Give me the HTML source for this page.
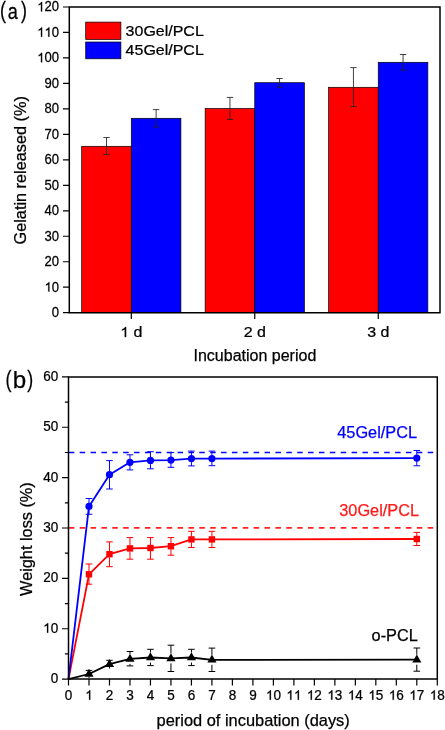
<!DOCTYPE html>
<html><head><meta charset="utf-8"><style>
html,body{margin:0;padding:0;background:#fff;}
body{width:445px;height:730px;overflow:hidden;}
svg{display:block;font-family:"Liberation Sans", sans-serif;will-change:transform;}
text{stroke:currentColor;stroke-width:0.25px;}
</style></head><body>
<svg width="445" height="730" viewBox="0 0 445 730">
<rect width="445" height="730" fill="#fff"/>
<rect x="81.7" y="146.3" width="49.6" height="166.4" fill="#ff0000" stroke="#000" stroke-width="0.7"/>
<rect x="131.3" y="118.3" width="49.6" height="194.4" fill="#0000ff" stroke="#000" stroke-width="0.7"/>
<rect x="205.15" y="108.5" width="49.6" height="204.2" fill="#ff0000" stroke="#000" stroke-width="0.7"/>
<rect x="254.75" y="82.7" width="49.6" height="230" fill="#0000ff" stroke="#000" stroke-width="0.7"/>
<rect x="328.65" y="87.3" width="49.6" height="225.4" fill="#ff0000" stroke="#000" stroke-width="0.7"/>
<rect x="378.25" y="62.3" width="49.6" height="250.4" fill="#0000ff" stroke="#000" stroke-width="0.7"/>
<path d="M106.5 137.5V154.6M103.3 137.5H109.7M103.3 154.6H109.7" stroke="#222" stroke-width="0.85" fill="none"/>
<path d="M156.1 109.6V127M152.9 109.6H159.3M152.9 127H159.3" stroke="#222" stroke-width="0.85" fill="none"/>
<path d="M229.95 97.4V119.4M226.75 97.4H233.15M226.75 119.4H233.15" stroke="#222" stroke-width="0.85" fill="none"/>
<path d="M279.55 78.5V87.2M276.35 78.5H282.75M276.35 87.2H282.75" stroke="#222" stroke-width="0.85" fill="none"/>
<path d="M353.45 67.6V106.6M350.25 67.6H356.65M350.25 106.6H356.65" stroke="#222" stroke-width="0.85" fill="none"/>
<path d="M403.05 54.5V70M399.85 54.5H406.25M399.85 70H406.25" stroke="#222" stroke-width="0.85" fill="none"/>
<path d="M69.3 7H440V312.7H69.3Z" fill="none" stroke="#000" stroke-width="1.5"/>
<path d="M63 312.7H69.3M63 287.22H69.3M63 261.75H69.3M63 236.27H69.3M63 210.8H69.3M63 185.32H69.3M63 159.85H69.3M63 134.38H69.3M63 108.9H69.3M63 83.42H69.3M63 57.95H69.3M63 32.47H69.3M63 7H69.3M131.3 312.7V319M254.75 312.7V319M378.25 312.7V319" stroke="#000" stroke-width="1.2" fill="none"/>
<g transform="translate(59.1 317.1) scale(0.95 1)"><text text-anchor="end" font-size="13.8">0</text></g>
<g transform="translate(59.1 291.62) scale(0.95 1)"><text text-anchor="end" font-size="13.8"> 0</text><path d="M-10.21 0H-11.42V-7.43Q-11.86 -7.03 -12.57 -6.63Q-13.28 -6.22 -13.85 -6.02V-7.15Q-12.83 -7.61 -12.07 -8.26Q-11.31 -8.92 -10.99 -9.49H-10.21Z" fill="#000" stroke="#000" stroke-width="0.25"/></g>
<g transform="translate(59.1 266.15) scale(0.95 1)"><text text-anchor="end" font-size="13.8">20</text></g>
<g transform="translate(59.1 240.67) scale(0.95 1)"><text text-anchor="end" font-size="13.8">30</text></g>
<g transform="translate(59.1 215.2) scale(0.95 1)"><text text-anchor="end" font-size="13.8">40</text></g>
<g transform="translate(59.1 189.72) scale(0.95 1)"><text text-anchor="end" font-size="13.8">50</text></g>
<g transform="translate(59.1 164.25) scale(0.95 1)"><text text-anchor="end" font-size="13.8">60</text></g>
<g transform="translate(59.1 138.78) scale(0.95 1)"><text text-anchor="end" font-size="13.8">70</text></g>
<g transform="translate(59.1 113.3) scale(0.95 1)"><text text-anchor="end" font-size="13.8">80</text></g>
<g transform="translate(59.1 87.82) scale(0.95 1)"><text text-anchor="end" font-size="13.8">90</text></g>
<g transform="translate(59.1 62.35) scale(0.95 1)"><text text-anchor="end" font-size="13.8"> 00</text><path d="M-17.88 0H-19.1V-7.43Q-19.53 -7.03 -20.25 -6.63Q-20.96 -6.22 -21.52 -6.02V-7.15Q-20.5 -7.61 -19.74 -8.26Q-18.98 -8.92 -18.67 -9.49H-17.88Z" fill="#000" stroke="#000" stroke-width="0.25"/></g>
<g transform="translate(59.1 36.87) scale(0.95 1)"><text text-anchor="end" font-size="13.8">  0</text><path d="M-17.88 0H-19.1V-7.43Q-19.53 -7.03 -20.25 -6.63Q-20.96 -6.22 -21.52 -6.02V-7.15Q-20.5 -7.61 -19.74 -8.26Q-18.98 -8.92 -18.67 -9.49H-17.88ZM-10.21 0H-11.42V-7.43Q-11.86 -7.03 -12.57 -6.63Q-13.28 -6.22 -13.85 -6.02V-7.15Q-12.83 -7.61 -12.07 -8.26Q-11.31 -8.92 -10.99 -9.49H-10.21Z" fill="#000" stroke="#000" stroke-width="0.25"/></g>
<g transform="translate(59.1 11.4) scale(0.95 1)"><text text-anchor="end" font-size="13.8"> 20</text><path d="M-17.88 0H-19.1V-7.43Q-19.53 -7.03 -20.25 -6.63Q-20.96 -6.22 -21.52 -6.02V-7.15Q-20.5 -7.61 -19.74 -8.26Q-18.98 -8.92 -18.67 -9.49H-17.88Z" fill="#000" stroke="#000" stroke-width="0.25"/></g>
<g transform="translate(131.3 337.1) scale(1 0.92)"><text text-anchor="middle" font-size="16">  d</text><path d="M-5.16 0H-6.57V-8.61Q-7.07 -8.15 -7.9 -7.68Q-8.72 -7.22 -9.38 -6.98V-8.29Q-8.2 -8.82 -7.32 -9.58Q-6.43 -10.34 -6.07 -11.01H-5.16Z" fill="#000" stroke="#000" stroke-width="0.25"/></g>
<g transform="translate(254.75 337.1) scale(1 0.92)"><text text-anchor="middle" font-size="16">2 d</text></g>
<g transform="translate(378.25 337.1) scale(1 0.92)"><text text-anchor="middle" font-size="16">3 d</text></g>
<text x="254.9" y="360.9" text-anchor="middle" font-size="16">Incubation period</text>
<text transform="translate(25.5 170.3) rotate(-90)" text-anchor="middle" font-size="16.3">Gelatin released (%)</text>
<rect x="85.7" y="22.1" width="35.2" height="17.4" fill="#ff0000" stroke="#000" stroke-width="0.7"/>
<rect x="85.7" y="42" width="35.2" height="16.8" fill="#0000ff" stroke="#000" stroke-width="0.7"/>
<text transform="translate(125.6 35.6) scale(1 0.94)" font-size="16">30Gel/PCL</text>
<text transform="translate(125.6 55.3) scale(1 0.94)" font-size="16">45Gel/PCL</text>
<text transform="translate(0 18.1) scale(0.76 1)" font-size="23.5">(</text>
<text transform="translate(7.8 18.6) scale(0.82 1)" font-size="22.2">a</text>
<text transform="translate(21.06 18.1) scale(0.76 1)" font-size="23.5">)</text>
<path d="M68.8 452.5H437.3" stroke="#0000ff" stroke-width="1.6" stroke-dasharray="5.5 5.376" fill="none"/>
<path d="M68.8 527.9H437.3" stroke="#ff2020" stroke-width="1.6" stroke-dasharray="5.5 5.376" fill="none"/>
<polyline points="68.5,679.1 88.99,674 109.48,664.1 129.97,658.9 150.46,657.5 170.94,658.4 191.43,657.5 211.92,659.8 416.81,659.7" fill="none" stroke="#000000" stroke-width="1.8" stroke-linejoin="round"/>
<path d="M85.69 670.4H92.29M88.99 676.5V678.1" stroke="#000000" stroke-width="1" fill="none"/>
<path d="M88.99 668.8L93.59 676.8L84.39 676.8Z" fill="#000000"/>
<path d="M106.18 660.3H112.78M109.48 666.6V668.5" stroke="#000000" stroke-width="1" fill="none"/>
<path d="M109.48 658.9L114.08 666.9L104.88 666.9Z" fill="#000000"/>
<path d="M129.97 651.5V653.9M129.97 663.9V665.9M126.67 651.5H133.27M126.67 665.9H133.27" stroke="#000000" stroke-width="1" fill="none"/>
<path d="M129.97 653.7L134.57 661.7L125.37 661.7Z" fill="#000000"/>
<path d="M150.46 649.3V652.5M150.46 662.5V665.6M147.16 649.3H153.76M147.16 665.6H153.76" stroke="#000000" stroke-width="1" fill="none"/>
<path d="M150.46 652.3L155.06 660.3L145.86 660.3Z" fill="#000000"/>
<path d="M170.94 645.2V653.4M170.94 663.4V671.5M167.64 645.2H174.24M167.64 671.5H174.24" stroke="#000000" stroke-width="1" fill="none"/>
<path d="M170.94 653.2L175.54 661.2L166.34 661.2Z" fill="#000000"/>
<path d="M191.43 649.3V652.5M191.43 662.5V665.6M188.13 649.3H194.73M188.13 665.6H194.73" stroke="#000000" stroke-width="1" fill="none"/>
<path d="M191.43 652.3L196.03 660.3L186.83 660.3Z" fill="#000000"/>
<path d="M211.92 648.1V654.8M211.92 664.8V671.5M208.62 648.1H215.22M208.62 671.5H215.22" stroke="#000000" stroke-width="1" fill="none"/>
<path d="M211.92 654.6L216.52 662.6L207.32 662.6Z" fill="#000000"/>
<path d="M416.81 648V654.7M416.81 664.7V671.2M413.51 648H420.11M413.51 671.2H420.11" stroke="#000000" stroke-width="1" fill="none"/>
<path d="M416.81 654.5L421.41 662.5L412.21 662.5Z" fill="#000000"/>
<polyline points="68.5,679.1 88.99,574.3 109.48,554.2 129.97,548.4 150.46,548 170.94,546.2 191.43,539.4 211.92,539.4 416.81,539" fill="none" stroke="#ff0000" stroke-width="1.8" stroke-linejoin="round"/>
<path d="M88.99 564V571.3M88.99 577.3V584.2M85.69 564H92.29M85.69 584.2H92.29" stroke="#ff0000" stroke-width="1" fill="none"/>
<rect x="85.79" y="571.1" width="6.4" height="6.4" fill="#ff0000"/>
<path d="M109.48 541.9V551.2M109.48 557.2V566.7M106.18 541.9H112.78M106.18 566.7H112.78" stroke="#ff0000" stroke-width="1" fill="none"/>
<rect x="106.28" y="551" width="6.4" height="6.4" fill="#ff0000"/>
<path d="M129.97 537.6V545.4M129.97 551.4V559.2M126.67 537.6H133.27M126.67 559.2H133.27" stroke="#ff0000" stroke-width="1" fill="none"/>
<rect x="126.77" y="545.2" width="6.4" height="6.4" fill="#ff0000"/>
<path d="M150.46 537.6V545M150.46 551V559.2M147.16 537.6H153.76M147.16 559.2H153.76" stroke="#ff0000" stroke-width="1" fill="none"/>
<rect x="147.26" y="544.8" width="6.4" height="6.4" fill="#ff0000"/>
<path d="M170.94 537.6V543.2M170.94 549.2V555.2M167.64 537.6H174.24M167.64 555.2H174.24" stroke="#ff0000" stroke-width="1" fill="none"/>
<rect x="167.74" y="543" width="6.4" height="6.4" fill="#ff0000"/>
<path d="M191.43 531.3V536.4M191.43 542.4V547.5M188.13 531.3H194.73M188.13 547.5H194.73" stroke="#ff0000" stroke-width="1" fill="none"/>
<rect x="188.23" y="536.2" width="6.4" height="6.4" fill="#ff0000"/>
<path d="M211.92 531.3V536.4M211.92 542.4V547.5M208.62 531.3H215.22M208.62 547.5H215.22" stroke="#ff0000" stroke-width="1" fill="none"/>
<rect x="208.72" y="536.2" width="6.4" height="6.4" fill="#ff0000"/>
<path d="M416.81 532.4V536M416.81 542V545.5M413.51 532.4H420.11M413.51 545.5H420.11" stroke="#ff0000" stroke-width="1" fill="none"/>
<rect x="413.61" y="535.8" width="6.4" height="6.4" fill="#ff0000"/>
<polyline points="68.5,679.1 88.99,506.4 109.48,474.7 129.97,462.3 150.46,460.4 170.94,460.1 191.43,458.6 211.92,458.6 416.81,458.1" fill="none" stroke="#0000ff" stroke-width="1.8" stroke-linejoin="round"/>
<path d="M88.99 498.5V503.4M88.99 509.4V514.3M85.69 498.5H92.29M85.69 514.3H92.29" stroke="#0000ff" stroke-width="1" fill="none"/>
<circle cx="88.99" cy="506.4" r="3.6" fill="#0000ff"/>
<path d="M109.48 460.6V471.7M109.48 477.7V489M106.18 460.6H112.78M106.18 489H112.78" stroke="#0000ff" stroke-width="1" fill="none"/>
<circle cx="109.48" cy="474.7" r="3.6" fill="#0000ff"/>
<path d="M129.97 454.8V459.3M129.97 465.3V469.9M126.67 454.8H133.27M126.67 469.9H133.27" stroke="#0000ff" stroke-width="1" fill="none"/>
<circle cx="129.97" cy="462.3" r="3.6" fill="#0000ff"/>
<path d="M150.46 451.7V457.4M150.46 463.4V468.8M147.16 451.7H153.76M147.16 468.8H153.76" stroke="#0000ff" stroke-width="1" fill="none"/>
<circle cx="150.46" cy="460.4" r="3.6" fill="#0000ff"/>
<path d="M170.94 452.6V457.1M170.94 463.1V467.3M167.64 452.6H174.24M167.64 467.3H174.24" stroke="#0000ff" stroke-width="1" fill="none"/>
<circle cx="170.94" cy="460.1" r="3.6" fill="#0000ff"/>
<path d="M191.43 451.1V455.6M191.43 461.6V465.9M188.13 451.1H194.73M188.13 465.9H194.73" stroke="#0000ff" stroke-width="1" fill="none"/>
<circle cx="191.43" cy="458.6" r="3.6" fill="#0000ff"/>
<path d="M211.92 451.1V455.6M211.92 461.6V465.7M208.62 451.1H215.22M208.62 465.7H215.22" stroke="#0000ff" stroke-width="1" fill="none"/>
<circle cx="211.92" cy="458.6" r="3.6" fill="#0000ff"/>
<path d="M416.81 450.5V455.1M416.81 461.1V465.8M413.51 450.5H420.11M413.51 465.8H420.11" stroke="#0000ff" stroke-width="1" fill="none"/>
<circle cx="416.81" cy="458.1" r="3.6" fill="#0000ff"/>
<path d="M68.5 376.9H437.3V679.1H68.5Z" fill="none" stroke="#000" stroke-width="1.5"/>
<path d="M62 679.1H68.5M62 628.73H68.5M62 578.37H68.5M62 528H68.5M62 477.63H68.5M62 427.27H68.5M62 376.9H68.5M68.5 679.1V685.5M88.99 679.1V685.5M109.48 679.1V685.5M129.97 679.1V685.5M150.46 679.1V685.5M170.94 679.1V685.5M191.43 679.1V685.5M211.92 679.1V685.5M232.41 679.1V685.5M252.9 679.1V685.5M273.39 679.1V685.5M293.88 679.1V685.5M314.37 679.1V685.5M334.86 679.1V685.5M355.34 679.1V685.5M375.83 679.1V685.5M396.32 679.1V685.5M416.81 679.1V685.5M437.3 679.1V685.5" stroke="#000" stroke-width="1.2" fill="none"/>
<path d="M64.9 653.92H68.5M64.9 603.55H68.5M64.9 553.18H68.5M64.9 502.82H68.5M64.9 452.45H68.5M64.9 402.08H68.5" stroke="#000" stroke-width="1.15" fill="none"/>
<g transform="translate(58.2 683) scale(0.98 1)"><text text-anchor="end" font-size="13.8">0</text></g>
<g transform="translate(58.2 632.63) scale(0.98 1)"><text text-anchor="end" font-size="13.8"> 0</text><path d="M-10.21 0H-11.42V-7.43Q-11.86 -7.03 -12.57 -6.63Q-13.28 -6.22 -13.85 -6.02V-7.15Q-12.83 -7.61 -12.07 -8.26Q-11.31 -8.92 -10.99 -9.49H-10.21Z" fill="#000" stroke="#000" stroke-width="0.25"/></g>
<g transform="translate(58.2 582.27) scale(0.98 1)"><text text-anchor="end" font-size="13.8">20</text></g>
<g transform="translate(58.2 531.9) scale(0.98 1)"><text text-anchor="end" font-size="13.8">30</text></g>
<g transform="translate(58.2 481.53) scale(0.98 1)"><text text-anchor="end" font-size="13.8">40</text></g>
<g transform="translate(58.2 431.17) scale(0.98 1)"><text text-anchor="end" font-size="13.8">50</text></g>
<g transform="translate(58.2 380.8) scale(0.98 1)"><text text-anchor="end" font-size="13.8">60</text></g>
<g transform="translate(68.5 699.8) scale(0.98 1)"><text text-anchor="middle" font-size="13.8">0</text></g>
<g transform="translate(88.99 699.8) scale(0.98 1)"><text text-anchor="middle" font-size="13.8"> </text><path d="M1.3 0H0.09V-7.43Q-0.35 -7.03 -1.06 -6.63Q-1.77 -6.22 -2.33 -6.02V-7.15Q-1.32 -7.61 -0.56 -8.26Q0.21 -8.92 0.52 -9.49H1.3Z" fill="#000" stroke="#000" stroke-width="0.25"/></g>
<g transform="translate(109.48 699.8) scale(0.98 1)"><text text-anchor="middle" font-size="13.8">2</text></g>
<g transform="translate(129.97 699.8) scale(0.98 1)"><text text-anchor="middle" font-size="13.8">3</text></g>
<g transform="translate(150.46 699.8) scale(0.98 1)"><text text-anchor="middle" font-size="13.8">4</text></g>
<g transform="translate(170.94 699.8) scale(0.98 1)"><text text-anchor="middle" font-size="13.8">5</text></g>
<g transform="translate(191.43 699.8) scale(0.98 1)"><text text-anchor="middle" font-size="13.8">6</text></g>
<g transform="translate(211.92 699.8) scale(0.98 1)"><text text-anchor="middle" font-size="13.8">7</text></g>
<g transform="translate(232.41 699.8) scale(0.98 1)"><text text-anchor="middle" font-size="13.8">8</text></g>
<g transform="translate(252.9 699.8) scale(0.98 1)"><text text-anchor="middle" font-size="13.8">9</text></g>
<g transform="translate(273.39 699.8) scale(0.98 1)"><text text-anchor="middle" font-size="13.8"> 0</text><path d="M-2.53 0H-3.75V-7.43Q-4.18 -7.03 -4.9 -6.63Q-5.61 -6.22 -6.17 -6.02V-7.15Q-5.15 -7.61 -4.39 -8.26Q-3.63 -8.92 -3.32 -9.49H-2.53Z" fill="#000" stroke="#000" stroke-width="0.25"/></g>
<g transform="translate(293.88 699.8) scale(0.98 1)"><text text-anchor="middle" font-size="13.8">  </text><path d="M-2.53 0H-3.75V-7.43Q-4.18 -7.03 -4.9 -6.63Q-5.61 -6.22 -6.17 -6.02V-7.15Q-5.15 -7.61 -4.39 -8.26Q-3.63 -8.92 -3.32 -9.49H-2.53ZM5.14 0H3.93V-7.43Q3.49 -7.03 2.78 -6.63Q2.07 -6.22 1.5 -6.02V-7.15Q2.52 -7.61 3.28 -8.26Q4.04 -8.92 4.36 -9.49H5.14Z" fill="#000" stroke="#000" stroke-width="0.25"/></g>
<g transform="translate(314.37 699.8) scale(0.98 1)"><text text-anchor="middle" font-size="13.8"> 2</text><path d="M-2.53 0H-3.75V-7.43Q-4.18 -7.03 -4.9 -6.63Q-5.61 -6.22 -6.17 -6.02V-7.15Q-5.15 -7.61 -4.39 -8.26Q-3.63 -8.92 -3.32 -9.49H-2.53Z" fill="#000" stroke="#000" stroke-width="0.25"/></g>
<g transform="translate(334.86 699.8) scale(0.98 1)"><text text-anchor="middle" font-size="13.8"> 3</text><path d="M-2.53 0H-3.75V-7.43Q-4.18 -7.03 -4.9 -6.63Q-5.61 -6.22 -6.17 -6.02V-7.15Q-5.15 -7.61 -4.39 -8.26Q-3.63 -8.92 -3.32 -9.49H-2.53Z" fill="#000" stroke="#000" stroke-width="0.25"/></g>
<g transform="translate(355.34 699.8) scale(0.98 1)"><text text-anchor="middle" font-size="13.8"> 4</text><path d="M-2.53 0H-3.75V-7.43Q-4.18 -7.03 -4.9 -6.63Q-5.61 -6.22 -6.17 -6.02V-7.15Q-5.15 -7.61 -4.39 -8.26Q-3.63 -8.92 -3.32 -9.49H-2.53Z" fill="#000" stroke="#000" stroke-width="0.25"/></g>
<g transform="translate(375.83 699.8) scale(0.98 1)"><text text-anchor="middle" font-size="13.8"> 5</text><path d="M-2.53 0H-3.75V-7.43Q-4.18 -7.03 -4.9 -6.63Q-5.61 -6.22 -6.17 -6.02V-7.15Q-5.15 -7.61 -4.39 -8.26Q-3.63 -8.92 -3.32 -9.49H-2.53Z" fill="#000" stroke="#000" stroke-width="0.25"/></g>
<g transform="translate(396.32 699.8) scale(0.98 1)"><text text-anchor="middle" font-size="13.8"> 6</text><path d="M-2.53 0H-3.75V-7.43Q-4.18 -7.03 -4.9 -6.63Q-5.61 -6.22 -6.17 -6.02V-7.15Q-5.15 -7.61 -4.39 -8.26Q-3.63 -8.92 -3.32 -9.49H-2.53Z" fill="#000" stroke="#000" stroke-width="0.25"/></g>
<g transform="translate(416.81 699.8) scale(0.98 1)"><text text-anchor="middle" font-size="13.8"> 7</text><path d="M-2.53 0H-3.75V-7.43Q-4.18 -7.03 -4.9 -6.63Q-5.61 -6.22 -6.17 -6.02V-7.15Q-5.15 -7.61 -4.39 -8.26Q-3.63 -8.92 -3.32 -9.49H-2.53Z" fill="#000" stroke="#000" stroke-width="0.25"/></g>
<g transform="translate(437.3 699.8) scale(0.98 1)"><text text-anchor="middle" font-size="13.8"> 8</text><path d="M-2.53 0H-3.75V-7.43Q-4.18 -7.03 -4.9 -6.63Q-5.61 -6.22 -6.17 -6.02V-7.15Q-5.15 -7.61 -4.39 -8.26Q-3.63 -8.92 -3.32 -9.49H-2.53Z" fill="#000" stroke="#000" stroke-width="0.25"/></g>
<text x="253.2" y="725.8" text-anchor="middle" font-size="16.4">period of incubation (days)</text>
<text transform="translate(31.6 539.1) rotate(-90)" text-anchor="middle" font-size="16.3">Weight loss (%)</text>
<text x="337.3" y="437.6" font-size="16.3" fill="#0000ff" color="#0000ff">45Gel/PCL</text>
<text x="339.3" y="515.7" font-size="16.3" fill="#ff1a1a" color="#ff1a1a">30Gel/PCL</text>
<text x="371.6" y="640.6" font-size="16.3">o-PCL</text>
<text transform="translate(5.4 387.0) scale(0.76 1)" font-size="23.5">(</text>
<text x="12.85" y="387.6" font-size="24.1">b</text>
<text transform="translate(27.26 387.0) scale(0.76 1)" font-size="23.5">)</text>
</svg>
</body></html>
